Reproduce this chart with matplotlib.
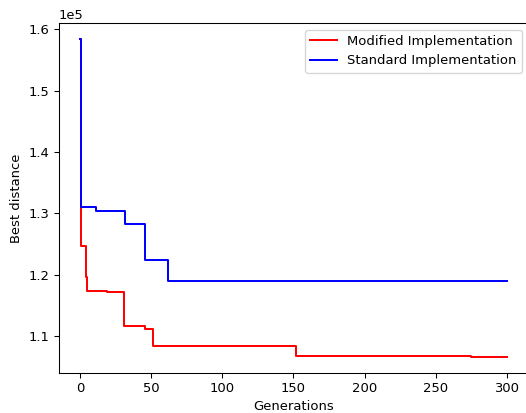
import matplotlib
matplotlib.use("Agg")
import matplotlib.pyplot as plt

# generation at which the best distance changes, and the new value
mod_gens = [0, 1, 4, 5, 19, 31, 46, 51, 152, 275, 300]
mod_best = [158400, 124700, 119600, 117400, 117200, 111700, 111150, 108450, 106800, 106650, 106650]

std_gens = [0, 1, 11, 32, 46, 62, 300]
std_best = [158400, 131100, 130400, 128350, 122400, 119000, 119000]

dpi = 94.7
fig = plt.figure(figsize=(526 / dpi, 413 / dpi), dpi=dpi)
ax = fig.add_axes([0.1114, 0.0969, 0.893, 0.8475])

ax.plot(mod_gens, mod_best, color="red", drawstyle="steps-post", label="Modified Implementation")
ax.plot(std_gens, std_best, color="blue", drawstyle="steps-post", label="Standard Implementation")

ax.ticklabel_format(style="sci", axis="y", scilimits=(0, 0))
ax.set_xlabel("Generations")
ax.set_ylabel("Best distance")
ax.legend(loc="upper right")

fig.savefig("out.png", dpi=dpi)
